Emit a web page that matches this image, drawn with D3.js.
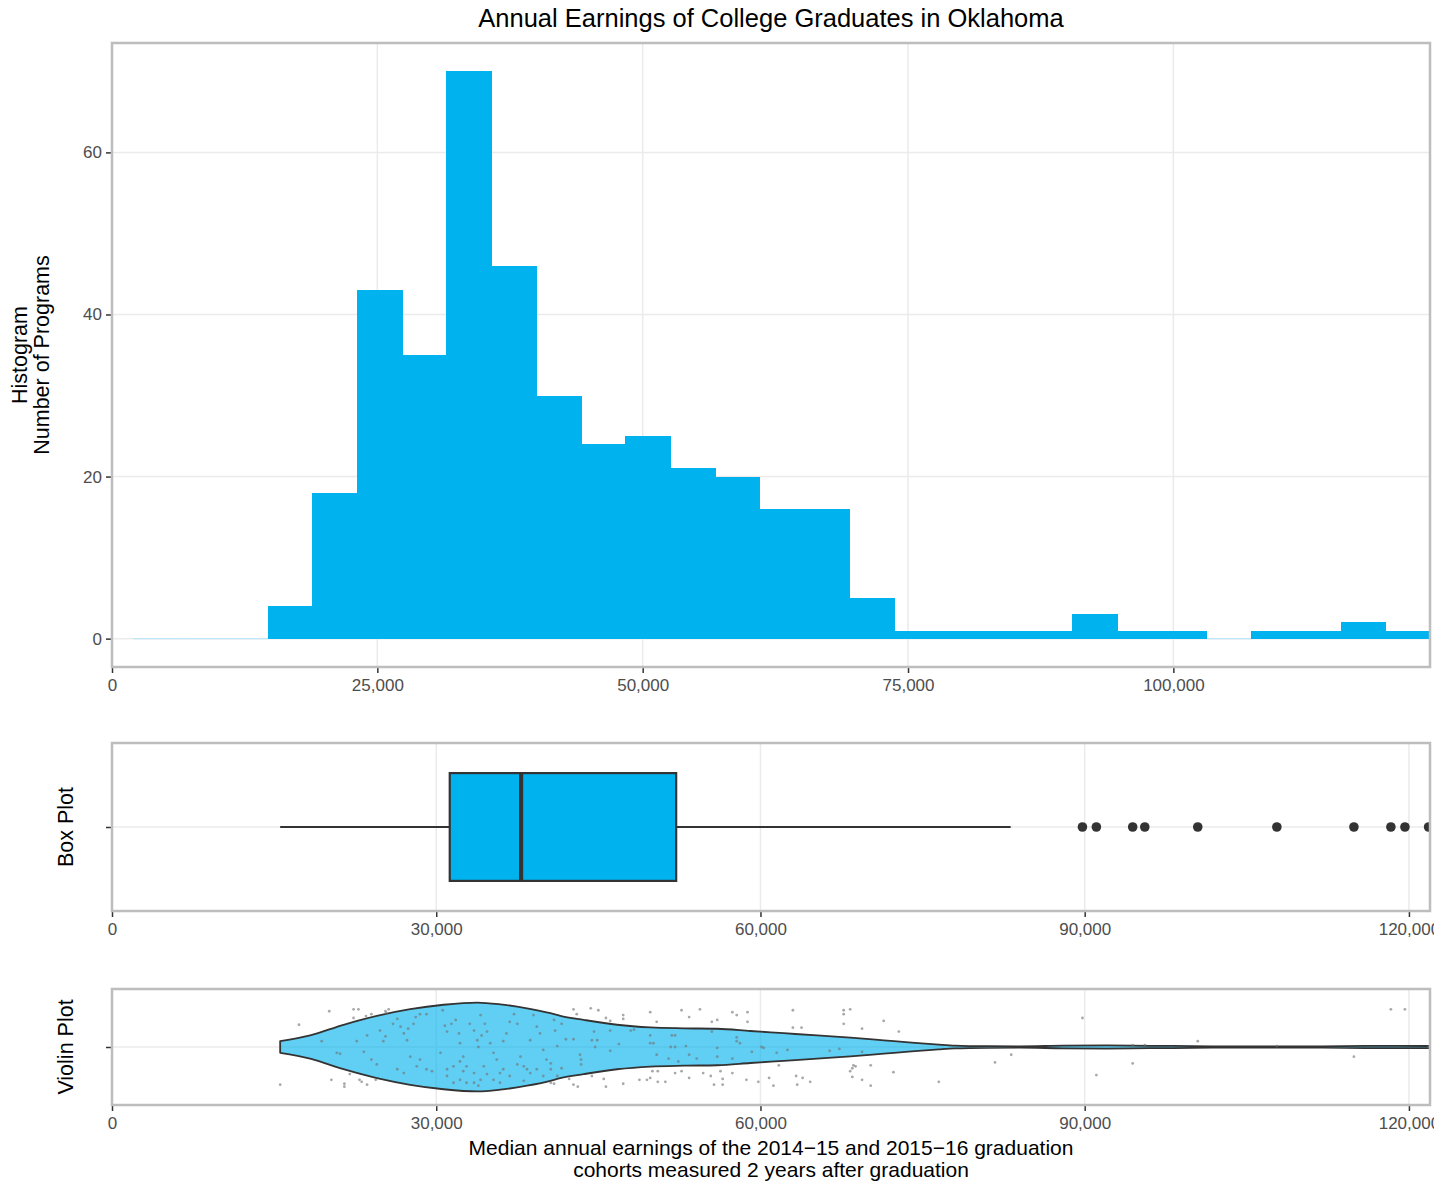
<!DOCTYPE html>
<html>
<head>
<meta charset="utf-8">
<script src="https://cdn.jsdelivr.net/npm/d3@7"></script>
<style>
  body { margin: 0; background: #fff; }
  svg { display: block; }
</style>
</head>
<body>
<div id="chart"></div>
<script>
// ---- data ----
const histBinStart = 2030;
const histBinWidth = 4212;
const histCounts = [0, 0, 0, 4, 18, 43, 35, 70, 46, 30, 24, 25, 21, 20, 16, 16, 5, 1, 1, 1, 1, 3, 1, 1, 0, 1, 1, 2, 1];
const histXMax = 124180;
const histXTicks = [0, 25000, 50000, 75000, 100000];
const histYTicks = [0, 20, 40, 60];

// lower whisker, Q1, median, Q3, upper whisker
const boxFiveNumbers = [15560, 31250, 37850, 52200, 83150];
const boxOutliers = [89790, 91080, 94440, 95560, 100460, 107780, 114910, 118330, 119630, 121820];
const distXMax = 121950;
const distXTicks = [0, 30000, 60000, 90000, 120000];

// violin outline: earnings value and relative half width (1 = widest)
const violinValues = [15560, 18330, 21420, 24510, 27590, 30680, 33800, 35930, 38400, 40560, 41480, 43640, 46730, 49820, 52900, 55990, 59070, 62160, 65250, 68330, 71420, 74000, 76500, 78000, 81000, 84000, 88000, 92000, 96000, 100000, 104000, 108000, 112000, 116000, 119000, 121820];
const violinWidths = [0.13, 0.26, 0.50, 0.70, 0.85, 0.95, 1.00, 0.96, 0.87, 0.76, 0.70, 0.61, 0.50, 0.44, 0.42, 0.41, 0.36, 0.31, 0.26, 0.21, 0.15, 0.10, 0.055, 0.033, 0.018, 0.015, 0.03, 0.035, 0.027, 0.02, 0.011, 0.013, 0.016, 0.024, 0.027, 0.022];

// jittered programs: earnings value, vertical jitter (violin axis units)
const jitterPoints = [
  [17300, 0.23], [15560, -0.39], [20100, 0.37], [22350, 0.39], [22800, 0.39], [22350, 0.30], [23500, 0.32], [24000, 0.34], [25300, 0.37], [25600, 0.39], [25400, 0.35],
  [20300, -0.34], [21500, -0.38], [21500, -0.41], [22000, -0.28], [22900, -0.34], [23100, -0.36], [23600, -0.39], [24400, -0.34],
  [19400, 0.06], [20800, -0.06], [21100, -0.07], [22650, 0.06], [23300, -0.05], [23600, 0.12], [24000, -0.13], [24500, -0.18], [24800, 0.17], [25300, 0.11], [25100, 0.06],
  [26000, 0.24], [26400, 0.29], [26700, 0.21], [27000, 0.14], [27300, 0.07], [27400, 0.19], [27900, 0.24], [28100, 0.31], [28500, 0.34], [29100, 0.34],
  [26400, -0.23], [27000, -0.27], [27600, -0.10], [28200, -0.20], [28500, -0.13], [29100, -0.23], [29600, -0.25], [30400, -0.06], [30600, 0.38], [30800, 0.22],
  [31000, 0.16], [31400, 0.24], [31800, 0.28], [32100, 0.14], [32200, 0.04], [32500, -0.10], [32800, -0.20], [33100, 0.24], [33500, 0.17], [33800, 0.07],
  [33900, 0.00], [34100, 0.33], [34200, 0.12], [34500, 0.24], [34700, 0.16], [35000, 0.04], [35300, -0.06], [35600, -0.13], [35900, -0.27], [36200, 0.06],
  [36500, 0.14], [36800, 0.26], [37200, 0.34], [37500, 0.24], [37800, -0.10], [38100, -0.20], [38400, -0.23], [38700, 0.07], [39000, 0.33], [39300, 0.21],
  [39600, 0.14], [39900, -0.03], [40200, -0.13], [40600, -0.23], [40900, 0.28], [41000, 0.17], [41200, -0.30],
  [31000, -0.30], [31600, -0.37], [32200, -0.34], [32800, -0.37], [33500, -0.37], [33900, -0.40], [34100, -0.34], [34700, -0.28], [35300, -0.34], [35900, -0.37],
  [31000, -0.23], [31600, -0.20], [32200, -0.15], [32500, -0.25], [33500, -0.27], [34400, -0.20], [36200, -0.23], [36800, -0.30], [37500, -0.18], [38100, -0.35],
  [38700, -0.27], [39300, -0.23], [39900, -0.30], [40600, -0.17],
  [42700, 0.39], [43000, 0.34], [44300, 0.40], [45000, 0.38], [45700, 0.30], [46100, 0.27], [47300, 0.33], [47300, 0.29], [49800, 0.36], [50400, 0.26],
  [52700, 0.38], [53400, 0.31], [54400, 0.39], [55500, 0.26], [56000, 0.28], [57400, 0.36], [57800, 0.33], [58800, 0.36], [58800, 0.26], [63000, 0.38],
  [63000, 0.20], [63800, 0.20], [67700, 0.38], [67700, 0.34], [68300, 0.39], [67700, 0.24], [69400, 0.19], [71400, 0.27],
  [41600, 0.24], [42000, 0.08], [42700, 0.08], [41200, 0.01], [44600, 0.16], [44400, 0.07], [44900, 0.07], [44700, 0.00], [46100, 0.17], [46100, -0.04],
  [46900, 0.03], [48000, 0.17], [48300, 0.18], [49800, 0.12], [49800, 0.04], [50100, 0.04], [50400, -0.08], [51500, -0.12], [51800, 0.12], [52100, 0.12],
  [51700, 0.00], [52100, 0.00], [52400, -0.15], [53100, 0.01], [53400, -0.08], [54100, -0.12], [55500, 0.16], [56000, -0.01], [56000, -0.10], [57400, -0.12],
  [57800, 0.10], [57800, 0.06], [58100, 0.04], [59200, -0.05], [60100, 0.00], [60300, -0.01], [61500, -0.06], [62500, -0.03], [66400, -0.04], [67300, -0.02], [69400, -0.05],
  [40600, -0.37], [40900, -0.38], [41600, -0.22], [42300, -0.33], [42700, -0.39], [43100, -0.41], [43300, -0.08], [43400, -0.13], [43400, -0.18], [44400, -0.30],
  [45500, -0.33], [45700, -0.41], [47300, -0.38], [48800, -0.34], [49500, -0.34], [49800, -0.32], [50000, -0.25], [50500, -0.25], [50500, -0.36], [51200, -0.36],
  [52100, -0.27], [52700, -0.25], [53400, -0.32], [54700, -0.27], [55400, -0.30], [55700, -0.39], [56300, -0.25], [56500, -0.33], [56500, -0.39], [57400, -0.27],
  [58700, -0.34], [59800, -0.36], [60800, -0.32], [61200, -0.40], [61700, -0.19], [63300, -0.30], [63400, -0.39], [63900, -0.32], [64600, -0.36], [68300, -0.25],
  [68500, -0.22], [68600, -0.19], [68800, -0.20], [68500, -0.31], [69400, -0.34], [70200, -0.19], [70200, -0.40],
  [72300, -0.26], [72800, 0.16], [76500, -0.36], [81700, -0.16], [83200, -0.08], [89790, 0.30], [91080, -0.29], [94440, 0.02], [94440, -0.17], [95560, 0.02],
  [100460, 0.06], [107780, 0.01], [114910, -0.10], [118330, 0.39], [119630, 0.39], [121820, 0.00]
];

// ---- layout ----
const width = 1434, height = 1185;
const plotLeft = 112, plotRight = 1430;
const histPanel = { top: 43, bottom: 667 };
const boxPanel = { top: 743, bottom: 911 };
const violinPanel = { top: 989, bottom: 1105 };
const fontFamily = "'Liberation Sans', Arial, sans-serif";
const barFill = "#00B2EE";
const gridColor = "#EBEBEB";
const borderColor = "#BDBDBD";
const ink = "#333333";
const tickTextColor = "#4D4D4D";

const svg = d3.select("#chart")
    .append("svg")
    .attr("width", width)
    .attr("height", height)
    .attr("font-family", fontFamily);

function addClip(id, panel) {
    svg.append("clipPath").attr("id", id)
        .append("rect")
        .attr("x", plotLeft)
        .attr("y", panel.top)
        .attr("width", plotRight - plotLeft)
        .attr("height", panel.bottom - panel.top);
}

function addGrid(xScale, xVals, yScale, yVals, panel) {
    const g = svg.append("g").attr("class", "grid");
    g.selectAll(".gx").data(xVals).join("line")
        .attr("x1", d => xScale(d)).attr("x2", d => xScale(d))
        .attr("y1", panel.top).attr("y2", panel.bottom)
        .attr("stroke", gridColor).attr("stroke-width", 1.5);
    g.selectAll(".gy").data(yVals).join("line")
        .attr("x1", plotLeft).attr("x2", plotRight)
        .attr("y1", d => yScale(d)).attr("y2", d => yScale(d))
        .attr("stroke", gridColor).attr("stroke-width", 1.5);
}

function styleAxis(axis) {
    axis.attr("font-family", fontFamily).attr("font-size", 17);
    axis.select(".domain").remove();
    axis.selectAll(".tick line").attr("stroke", ink).attr("stroke-width", 1.5);
    axis.selectAll(".tick text").attr("fill", tickTextColor);
}

function addXAxis(xScale, ticks, panel) {
    const axis = svg.append("g")
        .attr("transform", `translate(0,${panel.bottom})`)
        .call(d3.axisBottom(xScale).tickValues(ticks).tickSize(6).tickPadding(6).tickFormat(d3.format(",")));
    styleAxis(axis);
}

function addYAxis(yScale, ticks, format) {
    const axis = svg.append("g")
        .attr("transform", `translate(${plotLeft},0)`)
        .call(d3.axisLeft(yScale).tickValues(ticks).tickSize(6).tickPadding(4).tickFormat(format));
    styleAxis(axis);
}

function addBorder(panel) {
    svg.append("rect")
        .attr("x", plotLeft).attr("y", panel.top)
        .attr("width", plotRight - plotLeft)
        .attr("height", panel.bottom - panel.top)
        .attr("fill", "none")
        .attr("stroke", borderColor)
        .attr("stroke-width", 2.5);
}

function addSideLabel(lines, xPos, panel) {
    const cy = (panel.top + panel.bottom) / 2;
    lines.forEach((txt, i) => {
        svg.append("text")
            .attr("transform", `translate(${xPos + i * 22},${cy}) rotate(-90)`)
            .attr("text-anchor", "middle")
            .attr("dy", "0.35em")
            .attr("font-size", 21.5)
            .attr("fill", "#000")
            .text(txt);
    });
}

// ---- title ----
svg.append("text")
    .attr("x", (plotLeft + plotRight) / 2)
    .attr("y", 27)
    .attr("text-anchor", "middle")
    .attr("font-size", 25.5)
    .attr("fill", "#000")
    .text("Annual Earnings of College Graduates in Oklahoma");

// ---- histogram ----
const xHist = d3.scaleLinear().domain([0, histXMax]).range([plotLeft, plotRight]);
const yHist = d3.scaleLinear().domain([-3.5, 73.5]).range([histPanel.bottom, histPanel.top]);
addClip("clip-hist", histPanel);
addGrid(xHist, histXTicks.slice(1), yHist, histYTicks, histPanel);

const bins = histCounts.map((c, i) => ({
    x0: histBinStart + i * histBinWidth,
    x1: histBinStart + (i + 1) * histBinWidth,
    count: c
}));

const histG = svg.append("g").attr("clip-path", "url(#clip-hist)");

// empty bins show as a faint baseline
histG.selectAll(".empty")
    .data(bins.filter(d => d.count === 0))
    .join("line")
    .attr("class", "empty")
    .attr("x1", d => xHist(d.x0)).attr("x2", d => xHist(d.x1))
    .attr("y1", yHist(0)).attr("y2", yHist(0))
    .attr("stroke", "#bfe6f7")
    .attr("stroke-width", 1.2);

histG.selectAll(".bar")
    .data(bins.filter(d => d.count > 0))
    .join("rect")
    .attr("class", "bar")
    .attr("x", d => xHist(d.x0))
    .attr("y", d => yHist(d.count))
    .attr("width", d => xHist(d.x1) - xHist(d.x0) + 1)
    .attr("height", d => yHist(0) - yHist(d.count))
    .attr("fill", barFill)
    .attr("shape-rendering", "crispEdges");

addXAxis(xHist, histXTicks, histPanel);
addYAxis(yHist, histYTicks, d3.format("d"));
addBorder(histPanel);
addSideLabel(["Histogram", "Number of Programs"], 19, histPanel);

// ---- box plot ----
const xDist = d3.scaleLinear().domain([0, distXMax]).range([plotLeft, plotRight]);
const yBox = d3.scaleLinear().domain([0.4, 1.6]).range([boxPanel.bottom, boxPanel.top]);
addClip("clip-box", boxPanel);
addGrid(xDist, distXTicks.slice(1), yBox, [1], boxPanel);

const [lowW, q1, med, q3, highW] = boxFiveNumbers;
const boxG = svg.append("g").attr("clip-path", "url(#clip-box)");
const boxHalf = 0.385;

boxG.selectAll(".whisker")
    .data([[lowW, q1], [q3, highW]])
    .join("line")
    .attr("class", "whisker")
    .attr("x1", d => xDist(d[0])).attr("x2", d => xDist(d[1]))
    .attr("y1", yBox(1)).attr("y2", yBox(1))
    .attr("stroke", ink).attr("stroke-width", 2.2);

boxG.append("rect")
    .attr("x", xDist(q1))
    .attr("y", yBox(1 + boxHalf))
    .attr("width", xDist(q3) - xDist(q1))
    .attr("height", yBox(1 - boxHalf) - yBox(1 + boxHalf))
    .attr("fill", barFill)
    .attr("stroke", ink)
    .attr("stroke-width", 2.2);

boxG.append("line")
    .attr("x1", xDist(med)).attr("x2", xDist(med))
    .attr("y1", yBox(1 + boxHalf)).attr("y2", yBox(1 - boxHalf))
    .attr("stroke", ink).attr("stroke-width", 4.2);

boxG.selectAll(".outlier")
    .data(boxOutliers)
    .join("circle")
    .attr("class", "outlier")
    .attr("cx", d => xDist(d))
    .attr("cy", yBox(1))
    .attr("r", 4.8)
    .attr("fill", ink);

addXAxis(xDist, distXTicks, boxPanel);
addYAxis(yBox, [1], () => "");
addBorder(boxPanel);
addSideLabel(["Box Plot"], 65, boxPanel);

// ---- violin plot ----
const yViolin = d3.scaleLinear().domain([0.4, 1.6]).range([violinPanel.bottom, violinPanel.top]);
addClip("clip-violin", violinPanel);
addGrid(xDist, distXTicks.slice(1), yViolin, [1], violinPanel);

const violinHalf = 0.46;
const violinData = violinValues.map((v, i) => [v, violinWidths[i]]);
const violinArea = d3.area()
    .x(d => xDist(d[0]))
    .y0(d => yViolin(1 - violinHalf * d[1]))
    .y1(d => yViolin(1 + violinHalf * d[1]))
    .curve(d3.curveMonotoneX);

const violinG = svg.append("g").attr("clip-path", "url(#clip-violin)");
violinG.append("path")
    .datum(violinData)
    .attr("d", violinArea)
    .attr("fill", barFill)
    .attr("fill-opacity", 0.62)
    .attr("stroke", ink)
    .attr("stroke-width", 1.8)
    .attr("stroke-linejoin", "round");

violinG.selectAll(".jitter")
    .data(jitterPoints)
    .join("circle")
    .attr("class", "jitter")
    .attr("cx", d => xDist(d[0]))
    .attr("cy", d => yViolin(1 + d[1]))
    .attr("r", 1.4)
    .attr("fill", "#6f6f6f")
    .attr("fill-opacity", 0.6);

addXAxis(xDist, distXTicks, violinPanel);
addYAxis(yViolin, [1], () => "");
addBorder(violinPanel);
addSideLabel(["Violin Plot"], 65, violinPanel);

// ---- x axis title ----
["Median annual earnings of the 2014\u221215 and 2015\u221216 graduation",
 "cohorts measured 2 years after graduation"].forEach((txt, i) => {
    svg.append("text")
        .attr("x", (plotLeft + plotRight) / 2)
        .attr("y", 1155 + i * 22)
        .attr("text-anchor", "middle")
        .attr("font-size", 21)
        .attr("fill", "#000")
        .text(txt);
});
</script>
</body>
</html>
